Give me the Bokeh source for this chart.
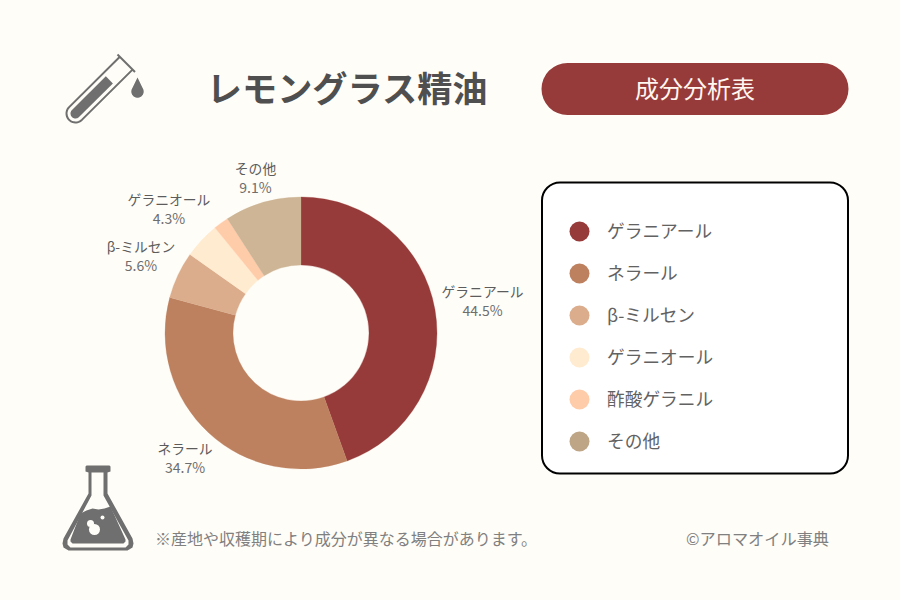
import numpy as np
from bokeh.plotting import figure
from bokeh.embed import file_html
from bokeh.resources import INLINE
from bokeh.core.properties import value
from bokeh.models import ColumnDataSource

BG = "#FFFDF7"
FONT = "Noto Sans CJK JP"

categories = ["ゲラニアール", "ネラール", "β-ミルセン", "ゲラニオール", "酢酸ゲラニル", "その他"]
shares = [44.5, 34.7, 5.6, 4.3, 1.8, 9.1]
wedge_colors = ["#973A3A", "#BD8160", "#DBAD8C", "#FFEBD0", "#FFCCAA", "#CDB595"]
legend_colors = ["#973A3A", "#BD8160", "#DBAD8C", "#FFEBD0", "#FFCCAA", "#BDA585"]
label_names = ["ゲラニアール", "ネラール", "β-ミルセン", "ゲラニオール", "その他"]
label_pcts = ["44.5%", "34.7%", "5.6%", "4.3%", "9.1%"]
label_x = [482, 184.5, 140.5, 168.5, 255]
label_y = [290, 447, 245, 198, 167]
legend_y = [231, 273, 315, 357, 399, 441]

p = figure(width=884, height=584, x_range=(0, 884), y_range=(584, 0),
           output_backend="svg", toolbar_location=None, min_border=0,
           background_fill_color=BG, border_fill_color=BG, outline_line_color=None)
p.axis.visible = False
p.grid.visible = False

# donut
vals = np.array(shares)
angs = vals / vals.sum() * 2 * np.pi
ends = np.cumsum(angs)
starts = ends - angs
cx, cy = 300.5, 332.5
p.annular_wedge(x=cx, y=cy, inner_radius=68, outer_radius=136,
                start_angle="a0", end_angle="a1", direction="clock",
                fill_color="c", line_color="c", line_width=0.3,
                source=ColumnDataSource(dict(a0=np.pi/2 - starts, a1=np.pi/2 - ends, c=wedge_colors)))

def txt(x, y, t, size, color="#5C5C5C", style="normal", align="left"):
    p.text(x=[x], y=[y], text=[t], text_font=value(FONT), text_font_size=size,
           text_color=color, text_font_style=style, text_align=align, text_baseline="middle")

# donut labels
for x, y, n, v in zip(label_x, label_y, label_names, label_pcts):
    txt(x, y, n, "13.8px", "#5C5C5C", align="center")
    txt(x, y + 19, v, "14px", "#6E6E6E", align="center")

# title + pill
txt(347, 86, "レモングラス精油", "35.2px", "#4F4F4F", "bold", "center")
p.rect(x=[694.5], y=[88.5], width=307, height=52, fill_color="#973A3A", line_color=None, border_radius=26)
txt(694.5, 86.5, "成分分析表", "24px", "#FFF6F0", align="center")

# legend box
p.rect(x=[694.5], y=[327.5], width=306, height=291, fill_color="#FFFFFF", line_color="#000000", line_width=2, border_radius=18)
p.scatter(x=[579]*6, y=legend_y, size=20, marker="circle", fill_color=legend_colors, line_color=None)
for y, c in zip(legend_y, categories):
    txt(606.5, y - 2, c, "17.7px", "#626262")

# footer
txt(154.5, 537, "※産地や収穫期により成分が異なる場合があります。", "16px", "#808080")
txt(828.5, 537, "©アロマオイル事典", "16.2px", "#808080", align="right")

# test tube icon
G = "#6F6F6F"
base = np.array([75.0, 113.0])
ang = np.arctan2(62.7 - 113.0, 125.7 - 75.0)
u = np.array([np.cos(ang), np.sin(ang)])
n = np.array([-u[1], u[0]])
def tube(r, l1):
    th = np.linspace(0, np.pi, 24)
    pts = [base + u*l1 + n*r]
    pts += [base + r*(n*np.cos(t) - u*np.sin(t)) for t in th]
    pts += [base + u*l1 - n*r]
    return [q[0] for q in pts], [q[1] for q in pts]
xs, ys = tube(9, 71.4)
p.line(xs, ys, line_color=G, line_width=2)
xs, ys = tube(5, 47.7)
p.patch(xs, ys, fill_color=G, line_color=None)
p.line([117, 134.5], [54, 71.5], line_color=G, line_width=2)
th = np.linspace(-0.6, np.pi + 0.6, 24)
p.patch(list(137 + 6.2*np.cos(th)) + [137], list(91 + 6.2*np.sin(th)) + [77], fill_color=G, line_color=None)

# flask icon
p.patch([86, 109, 110, 110, 107, 107, 132, 133, 132, 127, 68, 63, 62, 63, 88, 88, 85, 85],
        [465, 465, 466, 471, 472, 493, 538, 543, 547, 550, 550, 547, 543, 538, 493, 472, 471, 466],
        fill_color=G, line_color=None)
p.patch([91, 103, 103, 128, 128, 125, 70, 67, 67, 91],
        [472, 472, 495, 540, 544, 547, 547, 544, 540, 495],
        fill_color=BG, line_color=None)
p.patch([86, 92, 98, 104, 110, 125, 125, 123, 72, 70, 70, 80],
        [510, 508, 509, 508, 506, 539, 541, 543, 543, 541, 539, 513],
        fill_color=G, line_color=None)
p.scatter(x=[90, 94, 102], y=[523, 529, 517], size=[7, 11, 4], marker="circle",
          fill_color=BG, line_color=None)

html = file_html(p, INLINE)
html = html.replace("<head>", "<head><style>html,body{background:%s}</style>" % BG, 1)
open("out.html", "w").write(html)
